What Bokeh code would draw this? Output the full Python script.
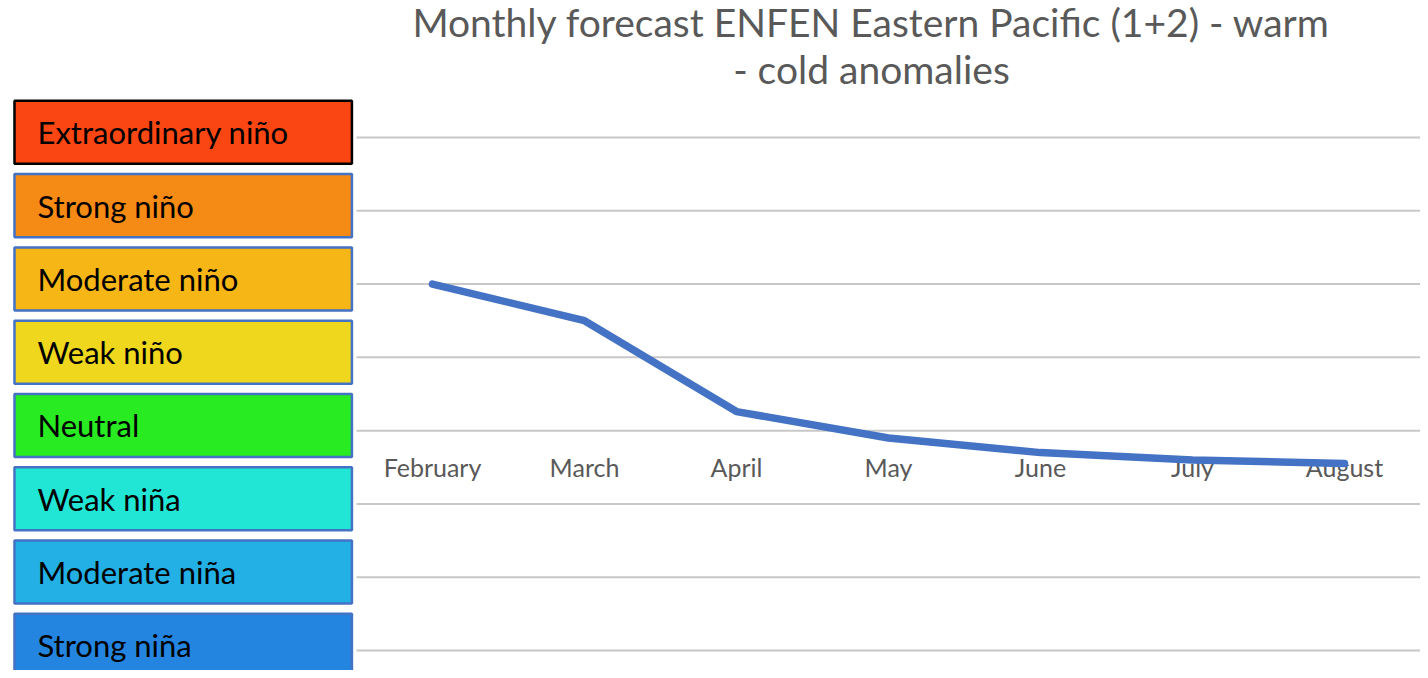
from bokeh.plotting import figure
from bokeh.models import Range1d, ColumnDataSource, Label
from bokeh.embed import file_html
from bokeh.resources import INLINE
from bokeh.core.properties import value

# ---------------- data ----------------
months = ["February", "March", "April", "May", "June", "July", "August"]
anomaly = [2.0, 1.5, 0.26, -0.1, -0.3, -0.4, -0.45]

levels = [4, 3, 2, 1, 0, -1, -2, -3]
level_labels = ["Extraordinary niño", "Strong niño", "Moderate niño", "Weak niño",
                "Neutral", "Weak niña", "Moderate niña", "Strong niña"]
level_colors = ["#FA4613", "#F58A14", "#F5B616", "#EED71C",
                "#28EB21", "#22E6D5", "#23B0E5", "#2485E0"]
level_borders = ["#000000", "#4472C4", "#4472C4", "#4472C4",
                 "#4472C4", "#4472C4", "#4472C4", "#4472C4"]

title_lines = ["Monthly forecast ENFEN Eastern Pacific (1+2) - warm", "- cold anomalies"]

# ---------------- layout ----------------
W, H = 1420, 670
FONT = "Lato"

p = figure(width=W, height=H, output_backend="svg", toolbar_location=None,
           x_range=Range1d(-2.842, 6.5), y_range=Range1d(-3.273, 5.869),
           min_border=0)
p.axis.visible = False
p.grid.visible = False
p.outline_line_color = None
p.background_fill_color = "white"

n = len(months)
xs = list(range(n))

# horizontal gridlines
p.segment(x0=[-0.5] * len(levels), x1=[n - 0.5] * len(levels), y0=levels, y1=levels,
          line_color="#C8C8C8", line_width=2)

# category labels along zero line
p.text(x=xs, y=[0] * n, text=months, text_align="center", text_baseline="middle",
       y_offset=36, text_font=value(FONT), text_font_size="25px", text_color="#595959")

# the forecast line
p.line(x=xs, y=anomaly, line_color="#4472C4", line_width=7.5,
       line_cap="round", line_join="round")

# left category boxes
box_left, box_right = -2.75, -0.53
box_src = ColumnDataSource(dict(
    x=[(box_left + box_right) / 2] * len(levels),
    y=[lv + 0.07 for lv in levels],
    fill=level_colors, border=level_borders, label=level_labels,
    tx=[box_left] * len(levels),
))
p.rect(x="x", y="y", width=box_right - box_left, height=0.86, source=box_src,
       fill_color="fill", line_color="border", line_width=2.5)
p.text(x="tx", y="y", text="label", source=box_src, x_offset=23,
       text_baseline="middle", text_align="left", text_font=value(FONT),
       text_font_size="31px", text_color="#000000")

# title
tx = 2.888
p.add_layout(Label(x=tx, y=5.58, text=title_lines[0], text_align="center",
                   text_baseline="alphabetic", text_font=FONT, text_font_size="39px",
                   text_color="#595959"))
p.add_layout(Label(x=tx, y=4.93, text=title_lines[1], text_align="center",
                   text_baseline="alphabetic", text_font=FONT, text_font_size="39px",
                   text_color="#595959"))

open("out.html", "w").write(file_html(p, INLINE))
